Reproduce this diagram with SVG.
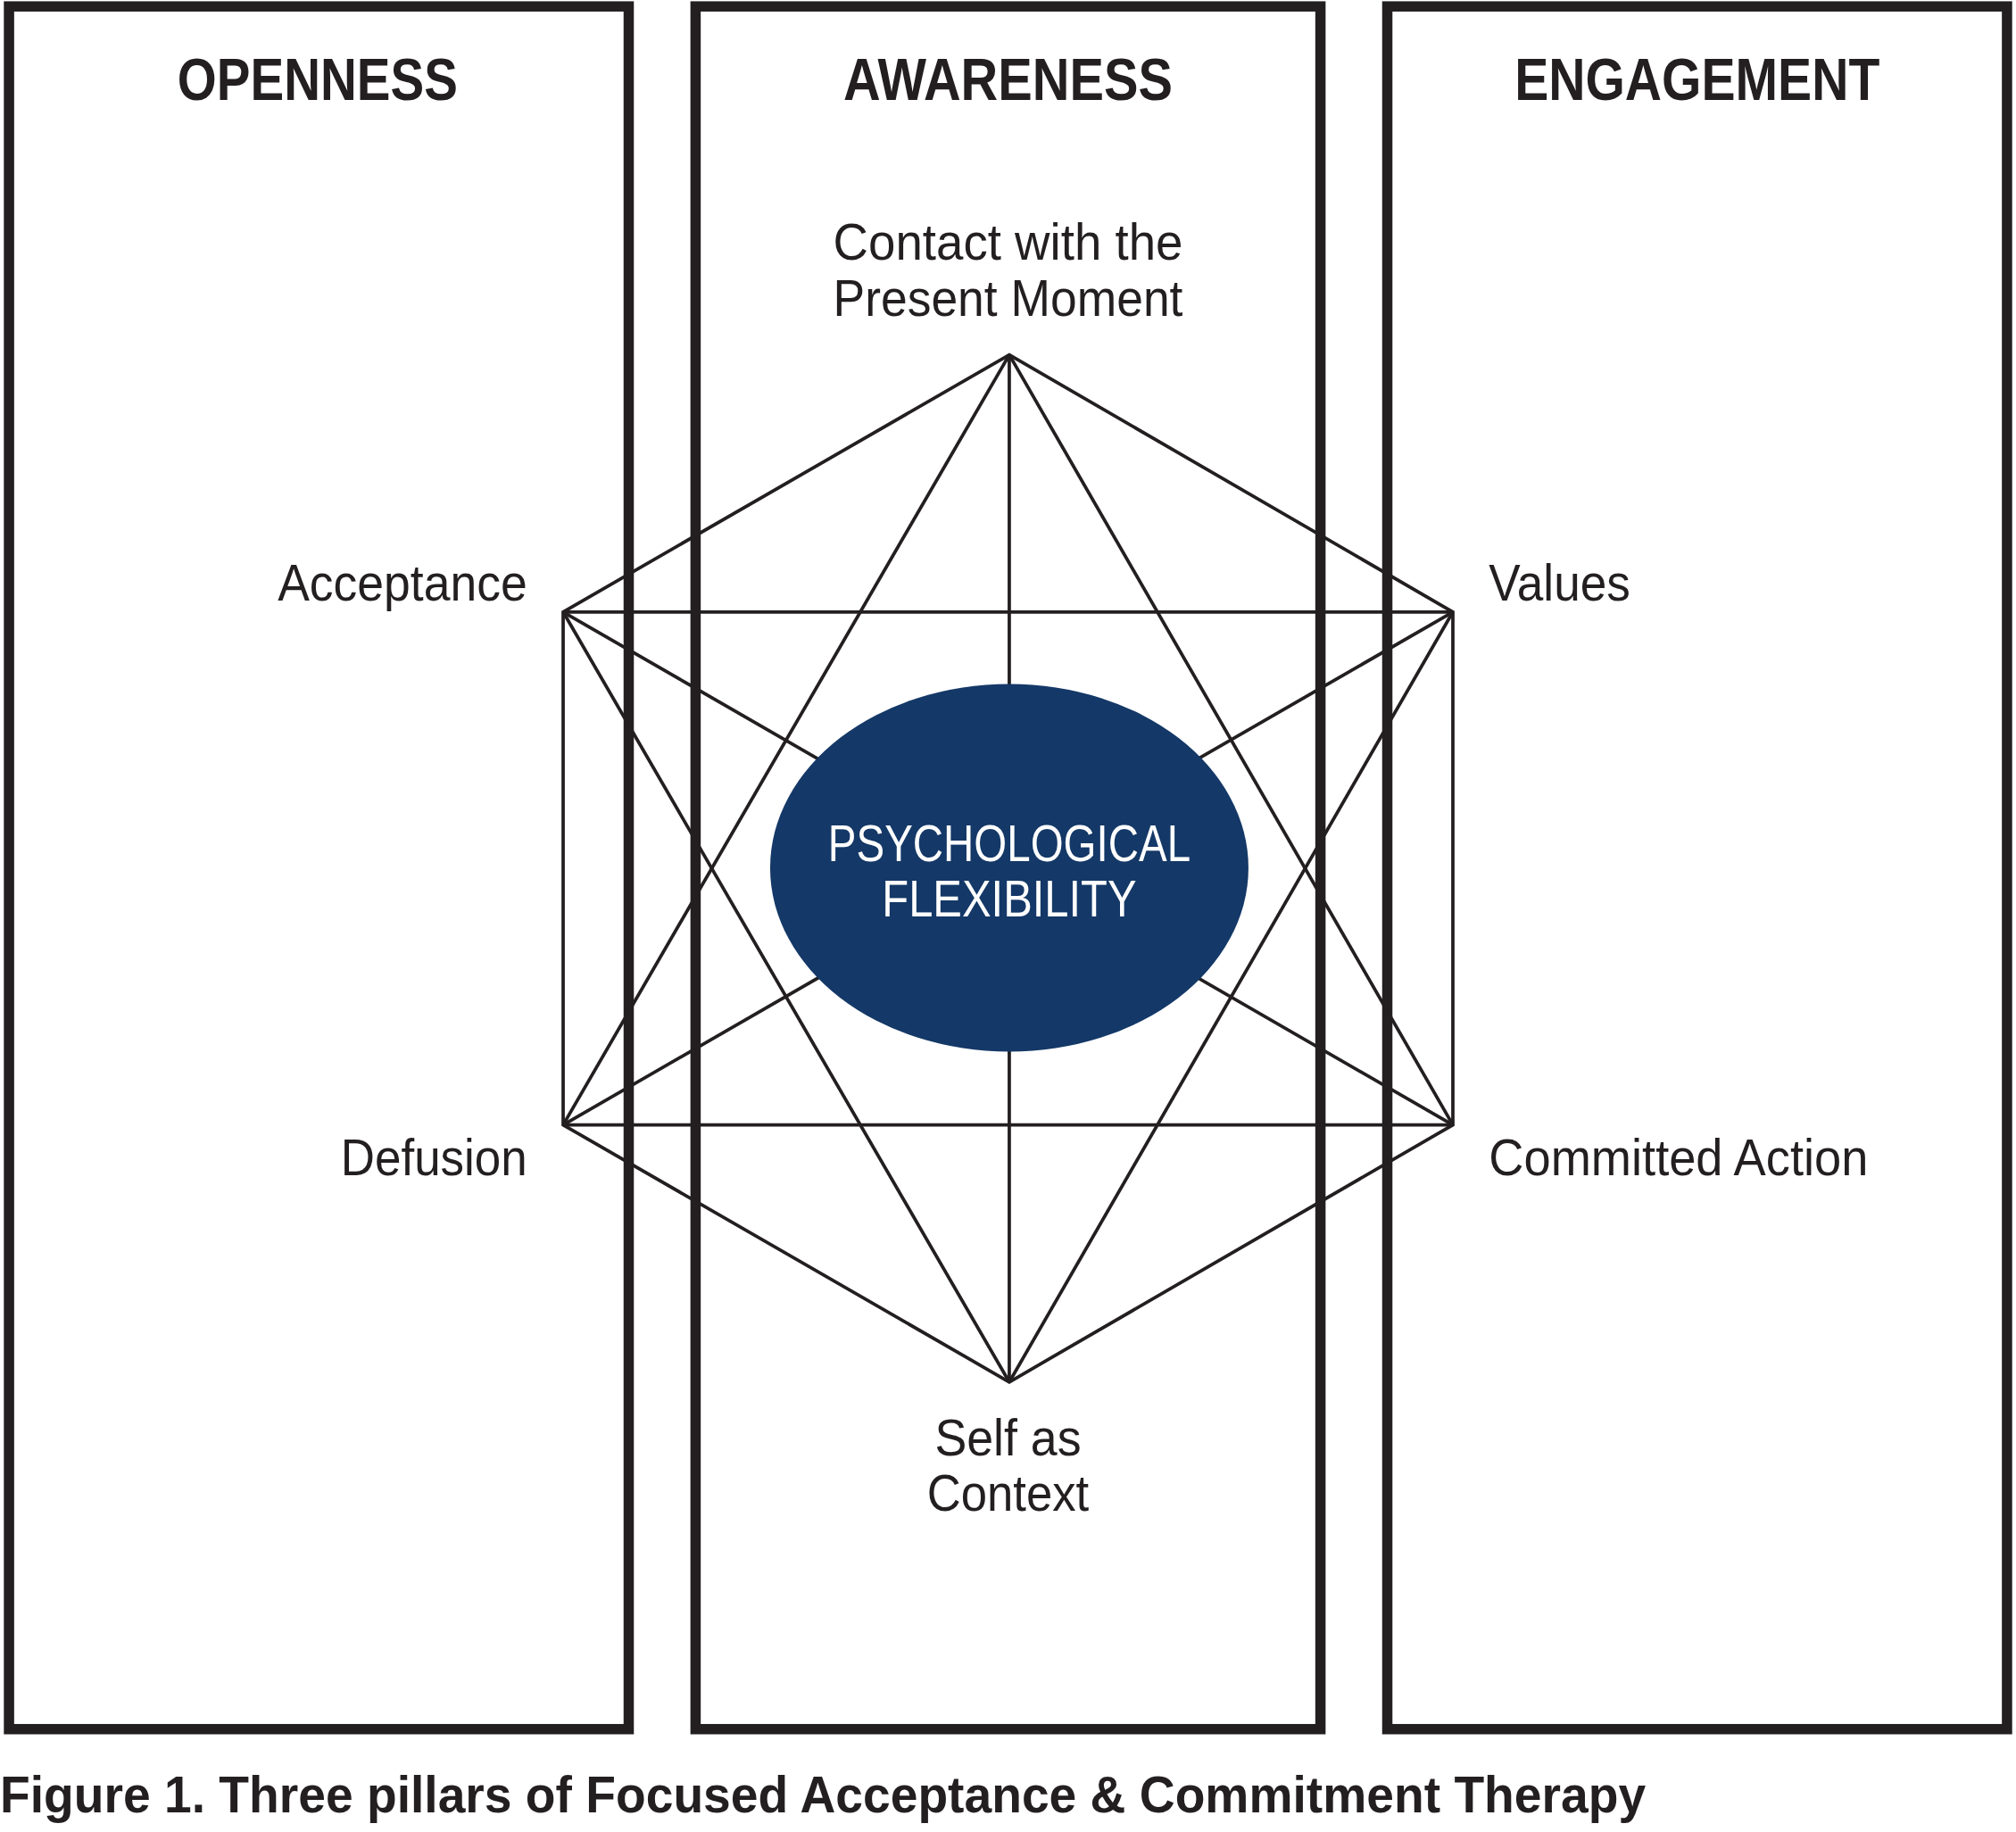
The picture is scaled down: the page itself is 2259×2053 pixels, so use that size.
<svg xmlns="http://www.w3.org/2000/svg" width="2259" height="2053" viewBox="0 0 2259 2053">
<style>
.pillar{fill:none;stroke:#231f20;stroke-width:8}
.ln{stroke:#231f20;stroke-width:2.6;fill:none}
.h{font-family:"Liberation Sans",Arial,sans-serif;font-weight:bold;font-size:46px;fill:#231f20;text-anchor:middle}
.l{font-family:"Liberation Sans",Arial,sans-serif;font-size:40px;fill:#231f20}
.c{text-anchor:middle}
.e{text-anchor:end}
.w{font-family:"Liberation Sans",Arial,sans-serif;font-size:40px;fill:#fff;text-anchor:middle}
.cap{font-family:"Liberation Sans",Arial,sans-serif;font-weight:bold;font-size:40px;fill:#231f20}
</style>
<rect width="2259" height="2053" fill="#fff"/>
<g transform="scale(1.4407)">
<g id="openness"><rect class="pillar" x="7" y="5" width="482" height="1340"/><text class="h" x="247" y="78" textLength="218" lengthAdjust="spacingAndGlyphs">OPENNESS</text></g>
<g id="awareness"><rect class="pillar" x="541" y="5" width="486" height="1340"/><text class="h" x="784" y="78" textLength="256" lengthAdjust="spacingAndGlyphs">AWARENESS</text></g>
<g id="engagement"><rect class="pillar" x="1079" y="5" width="482" height="1340"/><text class="h" x="1320" y="78" textLength="284" lengthAdjust="spacingAndGlyphs">ENGAGEMENT</text></g>
<g id="connectors">
<polygon class="ln" points="785,276 1130,476 1130,875 785,1075 438,875 438,476"/>
<line class="ln" x1="438" y1="476" x2="1130" y2="476"/>
<line class="ln" x1="438" y1="875" x2="1130" y2="875"/>
<line class="ln" x1="785" y1="276" x2="438" y2="875"/>
<line class="ln" x1="785" y1="276" x2="1130" y2="875"/>
<line class="ln" x1="785" y1="1075" x2="438" y2="476"/>
<line class="ln" x1="785" y1="1075" x2="1130" y2="476"/>
<line class="ln" x1="785" y1="276" x2="785" y2="1075"/>
<line class="ln" x1="438" y1="476" x2="1130" y2="875"/>
<line class="ln" x1="1130" y1="476" x2="438" y2="875"/>
</g>
<g id="center"><ellipse cx="785" cy="675" rx="186" ry="143" fill="#143867"/>
<text class="w" x="785" y="670" textLength="282" lengthAdjust="spacingAndGlyphs">PSYCHOLOGICAL</text>
<text class="w" x="785" y="713" textLength="198" lengthAdjust="spacingAndGlyphs">FLEXIBILITY</text></g>
<g id="contact"><text class="l c" x="784" y="202" textLength="272" lengthAdjust="spacingAndGlyphs">Contact with the</text><text class="l c" x="784" y="246" textLength="272" lengthAdjust="spacingAndGlyphs">Present Moment</text></g>
<g id="acceptance"><text class="l e" x="410" y="467" textLength="194" lengthAdjust="spacingAndGlyphs">Acceptance</text></g>
<g id="values"><text class="l" x="1158" y="467" textLength="110" lengthAdjust="spacingAndGlyphs">Values</text></g>
<g id="defusion"><text class="l e" x="410" y="914" textLength="145" lengthAdjust="spacingAndGlyphs">Defusion</text></g>
<g id="committed"><text class="l" x="1158" y="914" textLength="295" lengthAdjust="spacingAndGlyphs">Committed Action</text></g>
<g id="self"><text class="l c" x="784" y="1132" textLength="114" lengthAdjust="spacingAndGlyphs">Self as</text><text class="l c" x="784" y="1175" textLength="126" lengthAdjust="spacingAndGlyphs">Context</text></g>
<text class="cap" x="0" y="1410" textLength="1280" lengthAdjust="spacingAndGlyphs">Figure 1. Three pillars of Focused Acceptance &amp; Commitment Therapy</text>
</g>
</svg>
